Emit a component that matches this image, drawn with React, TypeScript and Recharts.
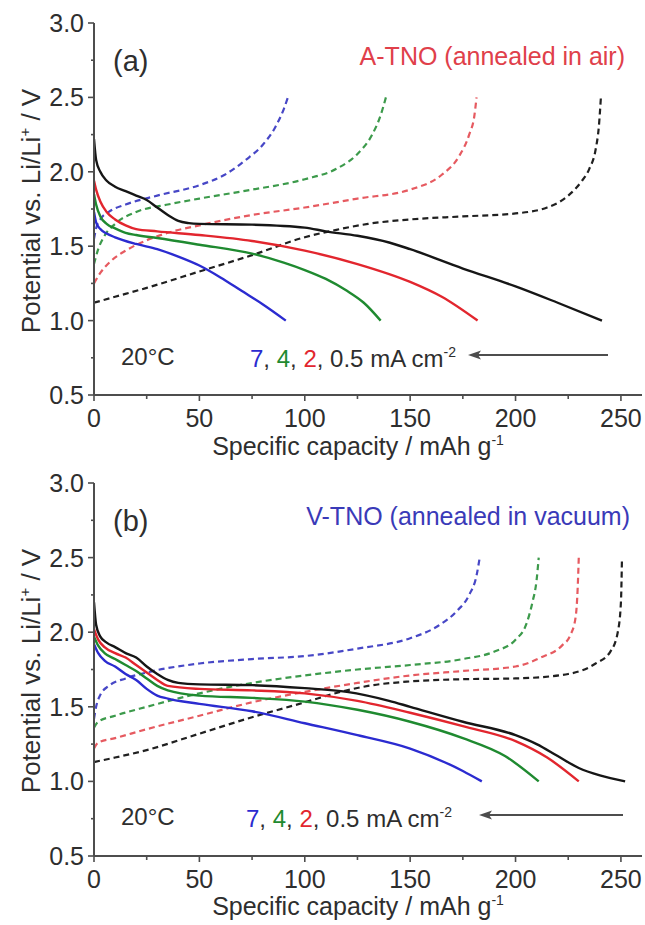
import React from 'react';
import { LineChart, Line, XAxis, YAxis } from 'recharts';

// ---------- ticks ----------
const X_TICKS = [0, 25, 50, 75, 100, 125, 150, 175, 200, 225, 250];
const X_MAJOR = [0, 50, 100, 150, 200, 250];
const Y_TICKS = [0.5, 0.75, 1.0, 1.25, 1.5, 1.75, 2.0, 2.25, 2.5, 2.75, 3.0];
const Y_MAJOR = [0.5, 1.0, 1.5, 2.0, 2.5, 3.0];

// ---------- panel (a): A-TNO, discharge (solid) ----------
const aDis7: [number, number][] = [[0, 1.73], [1, 1.66], [3, 1.615], [6, 1.585], [10, 1.56], [20, 1.515], [30, 1.48], [40, 1.43], [50, 1.37], [60, 1.29], [70, 1.20], [80, 1.11], [91, 1.0]];
const aDis4: [number, number][] = [[0, 1.85], [1, 1.78], [3, 1.70], [6, 1.65], [10, 1.62], [15, 1.59], [20, 1.575], [30, 1.555], [50, 1.51], [75, 1.45], [90, 1.39], [100, 1.34], [110, 1.28], [120, 1.20], [128, 1.12], [136, 1.0]];
const aDis2: [number, number][] = [[0, 1.94], [1, 1.88], [3, 1.80], [6, 1.73], [10, 1.68], [15, 1.64], [20, 1.615], [30, 1.60], [50, 1.575], [75, 1.535], [100, 1.47], [125, 1.38], [150, 1.26], [165, 1.16], [182, 1.0]];
const aDis05: [number, number][] = [[0, 2.22], [1, 2.08], [3, 2.0], [6, 1.94], [10, 1.90], [15, 1.87], [20, 1.84], [25, 1.81], [30, 1.76], [35, 1.71], [40, 1.67], [45, 1.655], [50, 1.65], [75, 1.645], [100, 1.625], [110, 1.60], [125, 1.57], [140, 1.525], [150, 1.48], [175, 1.35], [200, 1.23], [220, 1.12], [241, 1.0]];
// ---------- panel (a): charge (dashed) ----------
const aChg7: [number, number][] = [[0, 1.55], [1, 1.62], [3, 1.68], [7, 1.73], [15, 1.78], [30, 1.84], [50, 1.91], [62, 1.98], [72, 2.08], [80, 2.18], [86, 2.3], [90, 2.42], [92, 2.5]];
const aChg4: [number, number][] = [[0, 1.38], [2, 1.48], [5, 1.57], [10, 1.65], [20, 1.73], [35, 1.78], [50, 1.82], [75, 1.88], [100, 1.95], [115, 2.02], [125, 2.12], [132, 2.25], [136, 2.38], [138.5, 2.5]];
const aChg2: [number, number][] = [[0, 1.25], [3, 1.32], [8, 1.40], [15, 1.47], [25, 1.54], [35, 1.59], [50, 1.64], [75, 1.71], [100, 1.76], [125, 1.82], [150, 1.88], [165, 1.98], [173, 2.1], [178, 2.25], [180.5, 2.38], [181.5, 2.5]];
const aChg05: [number, number][] = [[0, 1.12], [10, 1.16], [25, 1.22], [50, 1.33], [75, 1.44], [100, 1.56], [115, 1.61], [130, 1.65], [150, 1.68], [175, 1.70], [200, 1.72], [215, 1.76], [225, 1.84], [231, 1.93], [235, 2.02], [238, 2.15], [239.5, 2.3], [240.5, 2.5]];

// ---------- panel (b): V-TNO, discharge (solid) ----------
const bDis7: [number, number][] = [[0, 1.92], [2, 1.86], [5, 1.81], [10, 1.77], [15, 1.72], [20, 1.68], [25, 1.62], [30, 1.575], [35, 1.555], [50, 1.52], [75, 1.47], [100, 1.39], [125, 1.31], [150, 1.22], [175, 1.07], [184, 1.0]];
const bDis4: [number, number][] = [[0, 1.97], [2, 1.91], [5, 1.86], [10, 1.82], [15, 1.78], [20, 1.74], [25, 1.69], [30, 1.64], [35, 1.61], [50, 1.575], [75, 1.56], [100, 1.535], [125, 1.48], [150, 1.40], [175, 1.29], [195, 1.17], [211, 1.0]];
const bDis2: [number, number][] = [[0, 2.02], [2, 1.95], [5, 1.90], [10, 1.86], [15, 1.83], [20, 1.78], [25, 1.73], [30, 1.68], [35, 1.64], [50, 1.62], [75, 1.61], [100, 1.59], [125, 1.54], [150, 1.46], [175, 1.37], [200, 1.27], [215, 1.16], [230, 1.0]];
const bDis05: [number, number][] = [[0, 2.2], [1, 2.05], [3, 1.97], [6, 1.93], [10, 1.90], [15, 1.86], [20, 1.83], [25, 1.77], [30, 1.72], [35, 1.68], [40, 1.66], [50, 1.65], [75, 1.645], [100, 1.625], [120, 1.60], [140, 1.54], [150, 1.50], [175, 1.40], [200, 1.31], [210, 1.25], [220, 1.17], [230, 1.09], [240, 1.04], [252, 1.0]];
// ---------- panel (b): charge (dashed) ----------
const bChg7: [number, number][] = [[0, 1.42], [1, 1.50], [3, 1.58], [7, 1.64], [15, 1.69], [25, 1.73], [50, 1.79], [75, 1.82], [100, 1.84], [125, 1.89], [150, 1.96], [163, 2.04], [172, 2.14], [178, 2.25], [181.5, 2.38], [183, 2.5]];
const bChg4: [number, number][] = [[0, 1.36], [2, 1.40], [10, 1.44], [25, 1.50], [50, 1.59], [75, 1.66], [100, 1.71], [125, 1.75], [150, 1.78], [175, 1.82], [190, 1.87], [200, 1.95], [205, 2.05], [208, 2.2], [210, 2.35], [211, 2.5]];
const bChg2: [number, number][] = [[0, 1.22], [2, 1.26], [10, 1.29], [25, 1.35], [50, 1.44], [75, 1.53], [100, 1.60], [125, 1.66], [150, 1.71], [175, 1.74], [200, 1.77], [212, 1.83], [222, 1.91], [226, 1.98], [228.5, 2.1], [229.5, 2.3], [230, 2.5]];
const bChg05: [number, number][] = [[0, 1.13], [10, 1.16], [25, 1.21], [50, 1.32], [75, 1.43], [100, 1.53], [117, 1.60], [130, 1.64], [150, 1.67], [175, 1.685], [200, 1.69], [225, 1.72], [238, 1.79], [245, 1.87], [248.5, 2.0], [250, 2.2], [250.5, 2.5]];

// ---------- style ----------
const FONT = '"Liberation Sans", Arial, Helvetica, sans-serif';
const AXIS = '#4d4d4d';
const TXT = '#2e2e2e';
const C_BLACK = '#161616';
const C_RED = '#e2262e';
const C_GREEN = '#1f8a30';
const C_BLUE = '#2b2bd0';
const D_BLACK = '#202020';
const D_RED = '#e65a60';
const D_GREEN = '#3c9a4b';
const D_BLUE = '#4747c6';

const toXY = (arr: [number, number][]) => arr.map(([x, y]) => ({ x, y }));

function YTick(props: any) {
  const { x, y, payload } = props;
  const v = payload.value as number;
  const major = Y_MAJOR.some((m) => Math.abs(m - v) < 1e-6);
  return (
    <g>
      <line x1={x - (major ? 6 : 3)} x2={x} y1={y} y2={y} stroke={AXIS} strokeWidth={1.6} />
      {major && (
        <text x={x - 10} y={y} dy="0.36em" textAnchor="end" fontSize={25} fill={TXT} fontFamily={FONT}>
          {v.toFixed(1)}
        </text>
      )}
    </g>
  );
}

function XTick(props: any) {
  const { x, y, payload } = props;
  const v = payload.value as number;
  const major = X_MAJOR.includes(v);
  return (
    <g>
      <line x1={x} x2={x} y1={y} y2={y + (major ? 6 : 4)} stroke={AXIS} strokeWidth={1.6} />
      {major && (
        <text x={x} y={y + 14} dy="0.72em" textAnchor="middle" fontSize={25} fill={TXT} fontFamily={FONT}>
          {v}
        </text>
      )}
    </g>
  );
}

type Series = { data: [number, number][]; color: string; dashed: boolean; name: string };

function Panel({ series, height, xAxisHeight }: { series: Series[]; height: number; xAxisHeight: number }) {
  return (
    <LineChart width={645} height={height} margin={{ top: 23, right: 3, bottom: 0, left: 0 }}>
      <XAxis
        dataKey="x"
        type="number"
        domain={[0, 260]}
        ticks={X_TICKS}
        interval={0}
        height={xAxisHeight}
        tickSize={0}
        tickMargin={0}
        tickLine={false}
        axisLine={{ stroke: AXIS, strokeWidth: 2 }}
        tick={(p: any) => <XTick {...p} />}
        allowDataOverflow
      />
      <XAxis
        xAxisId="top"
        orientation="top"
        dataKey="x"
        type="number"
        domain={[0, 260]}
        height={0}
        tick={false}
        tickLine={false}
        axisLine={{ stroke: AXIS, strokeWidth: 2 }}
      />
      <YAxis
        type="number"
        domain={[0.5, 3.0]}
        ticks={Y_TICKS}
        interval={0}
        width={94}
        tickSize={0}
        tickMargin={0}
        tickLine={false}
        axisLine={{ stroke: AXIS, strokeWidth: 2 }}
        tick={(p: any) => <YTick {...p} />}
        allowDataOverflow
      />
      <YAxis
        yAxisId="right"
        orientation="right"
        type="number"
        domain={[0.5, 3.0]}
        width={0}
        tick={false}
        tickLine={false}
        axisLine={{ stroke: AXIS, strokeWidth: 2 }}
      />
      {series.map((s) => (
        <Line
          key={s.name}
          data={toXY(s.data)}
          dataKey="y"
          type="monotone"
          stroke={s.color}
          strokeWidth={s.dashed ? 2.2 : 2.4}
          strokeDasharray={s.dashed ? '6 4' : undefined}
          dot={false}
          activeDot={false}
          isAnimationActive={false}
        />
      ))}
    </LineChart>
  );
}

const seriesA: Series[] = [
  { name: 'a-c05', data: aChg05, color: D_BLACK, dashed: true },
  { name: 'a-c2', data: aChg2, color: D_RED, dashed: true },
  { name: 'a-c4', data: aChg4, color: D_GREEN, dashed: true },
  { name: 'a-c7', data: aChg7, color: D_BLUE, dashed: true },
  { name: 'a-d05', data: aDis05, color: C_BLACK, dashed: false },
  { name: 'a-d2', data: aDis2, color: C_RED, dashed: false },
  { name: 'a-d4', data: aDis4, color: C_GREEN, dashed: false },
  { name: 'a-d7', data: aDis7, color: C_BLUE, dashed: false },
];

const seriesB: Series[] = [
  { name: 'b-c05', data: bChg05, color: D_BLACK, dashed: true },
  { name: 'b-c2', data: bChg2, color: D_RED, dashed: true },
  { name: 'b-c4', data: bChg4, color: D_GREEN, dashed: true },
  { name: 'b-c7', data: bChg7, color: D_BLUE, dashed: true },
  { name: 'b-d05', data: bDis05, color: C_BLACK, dashed: false },
  { name: 'b-d2', data: bDis2, color: C_RED, dashed: false },
  { name: 'b-d4', data: bDis4, color: C_GREEN, dashed: false },
  { name: 'b-d7', data: bDis7, color: C_BLUE, dashed: false },
];

function Annotations({ oy, label, sample, sampleColor, sampleX, rateX, arrowFrom, arrowTo }: any) {
  const textProps = { fontFamily: FONT, fill: TXT };
  return (
    <g>
      <text
        x={31}
        y={211 + oy}
        dy="0.35em"
        textAnchor="middle"
        fontSize={26}
        transform={`rotate(-90 31 ${211 + oy})`}
        {...textProps}
      >
        Potential vs. Li/Li<tspan dy={-10} fontSize={15}>+</tspan>
        <tspan dy={10}> / V</tspan>
      </text>
      <text x={358} y={446 + oy} dy="0.35em" textAnchor="middle" fontSize={25} {...textProps}>
        Specific capacity / mAh g<tspan dy={-10} fontSize={14}>-1</tspan>
      </text>
      <text x={113} y={61 + oy} dy="0.35em" fontSize={29} {...textProps}>
        {label}
      </text>
      <text x={sampleX} y={56 + oy} dy="0.35em" textAnchor="end" fontSize={25} fontFamily={FONT} fill={sampleColor}>
        {sample}
      </text>
      <text x={121} y={357 + oy} dy="0.35em" fontSize={24} {...textProps}>
        20°C
      </text>
      <text x={rateX} y={359 + oy} dy="0.35em" fontSize={24} {...textProps}>
        <tspan fill={C_BLUE}>7</tspan>, <tspan fill={C_GREEN}>4</tspan>, <tspan fill={C_RED}>2</tspan>, 0.5 mA cm
        <tspan dy={-10} fontSize={14}>-2</tspan>
      </text>
      <line x1={arrowFrom} x2={arrowTo + 10} y1={355 + oy} y2={355 + oy} stroke={AXIS} strokeWidth={2} />
      <path
        d={`M ${arrowTo} ${355 + oy} L ${arrowTo + 13} ${350.5 + oy} L ${arrowTo + 10} ${355 + oy} L ${arrowTo + 13} ${359.5 + oy} Z`}
        fill={AXIS}
      />
    </g>
  );
}

export default function App() {
  return (
    <div style={{ position: 'absolute', left: 0, top: 0, width: 645, height: 925, background: '#fff' }}>
      <div style={{ position: 'absolute', left: 0, top: 0 }}>
        <Panel series={seriesA} height={460} xAxisHeight={65} />
      </div>
      <div style={{ position: 'absolute', left: 0, top: 460 }}>
        <Panel series={seriesB} height={465} xAxisHeight={69} />
      </div>
      <svg
        width={645}
        height={925}
        style={{ position: 'absolute', left: 0, top: 0, pointerEvents: 'none' }}
      >
        <Annotations
          oy={0}
          label="(a)"
          sample="A-TNO (annealed in air)"
          sampleColor="#e0404a"
          sampleX={625}
          rateX={250}
          arrowFrom={608}
          arrowTo={468}
        />
        <Annotations
          oy={460}
          label="(b)"
          sample="V-TNO (annealed in vacuum)"
          sampleColor="#3a3ab8"
          sampleX={630}
          rateX={246}
          arrowFrom={623}
          arrowTo={479}
        />
      </svg>
    </div>
  );
}
